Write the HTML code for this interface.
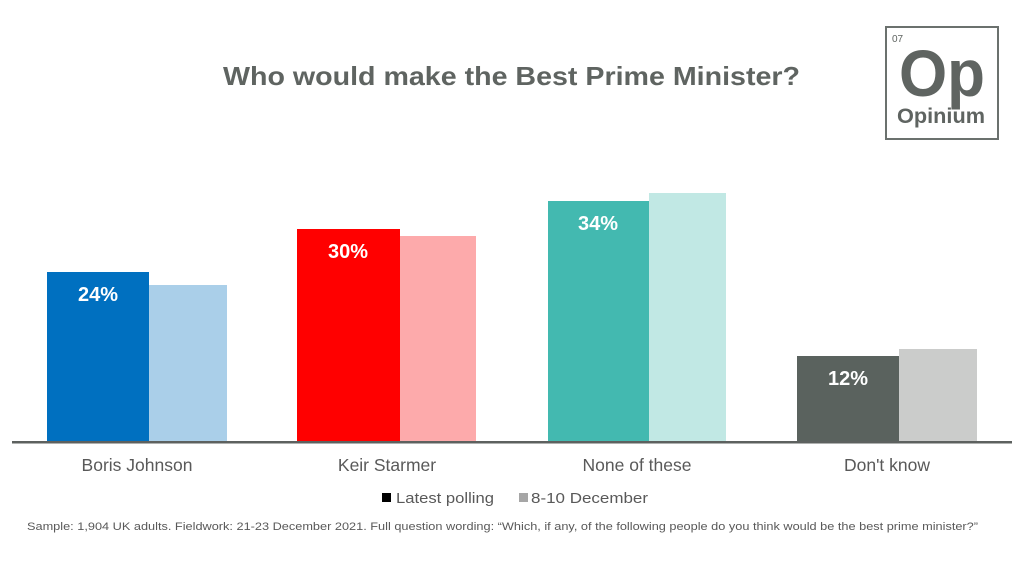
<!DOCTYPE html>
<html>
<head>
<meta charset="utf-8">
<style>
html,body{margin:0;padding:0;background:#fff;}
svg{display:block;}
text{font-family:"Liberation Sans",Arial,sans-serif;}
</style>
</head>
<body>
<svg width="1024" height="576" viewBox="0 0 1024 576" xmlns="http://www.w3.org/2000/svg">
<rect width="1024" height="576" fill="#fff"/>
<!-- Title -->
<text x="223" y="85" font-size="26" font-weight="bold" fill="#5f6461" textLength="577" lengthAdjust="spacingAndGlyphs">Who would make the Best Prime Minister?</text>

<!-- Logo -->
<rect x="886" y="27" width="112" height="112" fill="none" stroke="#6b716e" stroke-width="2"/>
<text x="892" y="42" font-size="10" fill="#5f6461">07</text>
<text x="942" y="96" font-size="66" font-weight="bold" fill="#5f6461" text-anchor="middle" textLength="86" lengthAdjust="spacingAndGlyphs">Op</text>
<text x="941" y="123" font-size="21" font-weight="bold" fill="#5f6461" text-anchor="middle" textLength="88" lengthAdjust="spacingAndGlyphs">Opinium</text>

<!-- Bars -->
<rect x="47" y="272" width="102" height="170" fill="#0070c0"/>
<rect x="149" y="285" width="78" height="157" fill="#aacfe9"/>

<rect x="297" y="229" width="103" height="213" fill="#ff0000"/>
<rect x="400" y="236" width="76" height="206" fill="#fdaaab"/>

<rect x="548" y="201" width="101" height="241" fill="#43b9b0"/>
<rect x="649" y="193" width="77" height="249" fill="#c1e8e4"/>

<rect x="797" y="356" width="102" height="86" fill="#5a625e"/>
<rect x="899" y="349" width="78" height="93" fill="#cbcccb"/>

<!-- Axis -->
<rect x="12" y="441" width="1000" height="2.5" fill="#5d615f"/>

<!-- Value labels -->
<g font-size="20" font-weight="bold" fill="#fff" text-anchor="middle">
<text x="98" y="301">24%</text>
<text x="348" y="258">30%</text>
<text x="598" y="230">34%</text>
<text x="848" y="385">12%</text>
</g>

<!-- Category labels -->
<g font-size="17.5" fill="#595959" text-anchor="middle">
<text x="137" y="471">Boris Johnson</text>
<text x="387" y="471">Keir Starmer</text>
<text x="637" y="471">None of these</text>
<text x="887" y="471">Don't know</text>
</g>

<!-- Legend -->
<rect x="382" y="493" width="9" height="9" fill="#000"/>
<text x="396" y="503" font-size="15" fill="#595959" textLength="98" lengthAdjust="spacingAndGlyphs">Latest polling</text>
<rect x="519" y="493" width="9" height="9" fill="#a6a6a6"/>
<text x="531" y="503" font-size="15" fill="#595959" textLength="117" lengthAdjust="spacingAndGlyphs">8-10 December</text>

<!-- Footnote -->
<text x="27" y="530" font-size="11" fill="#595959" textLength="951" lengthAdjust="spacingAndGlyphs">Sample: 1,904 UK adults.  Fieldwork: 21-23 December 2021.  Full question wording: “Which, if any, of the following people do you think would be the best prime minister?”</text>
</svg>
</body>
</html>
